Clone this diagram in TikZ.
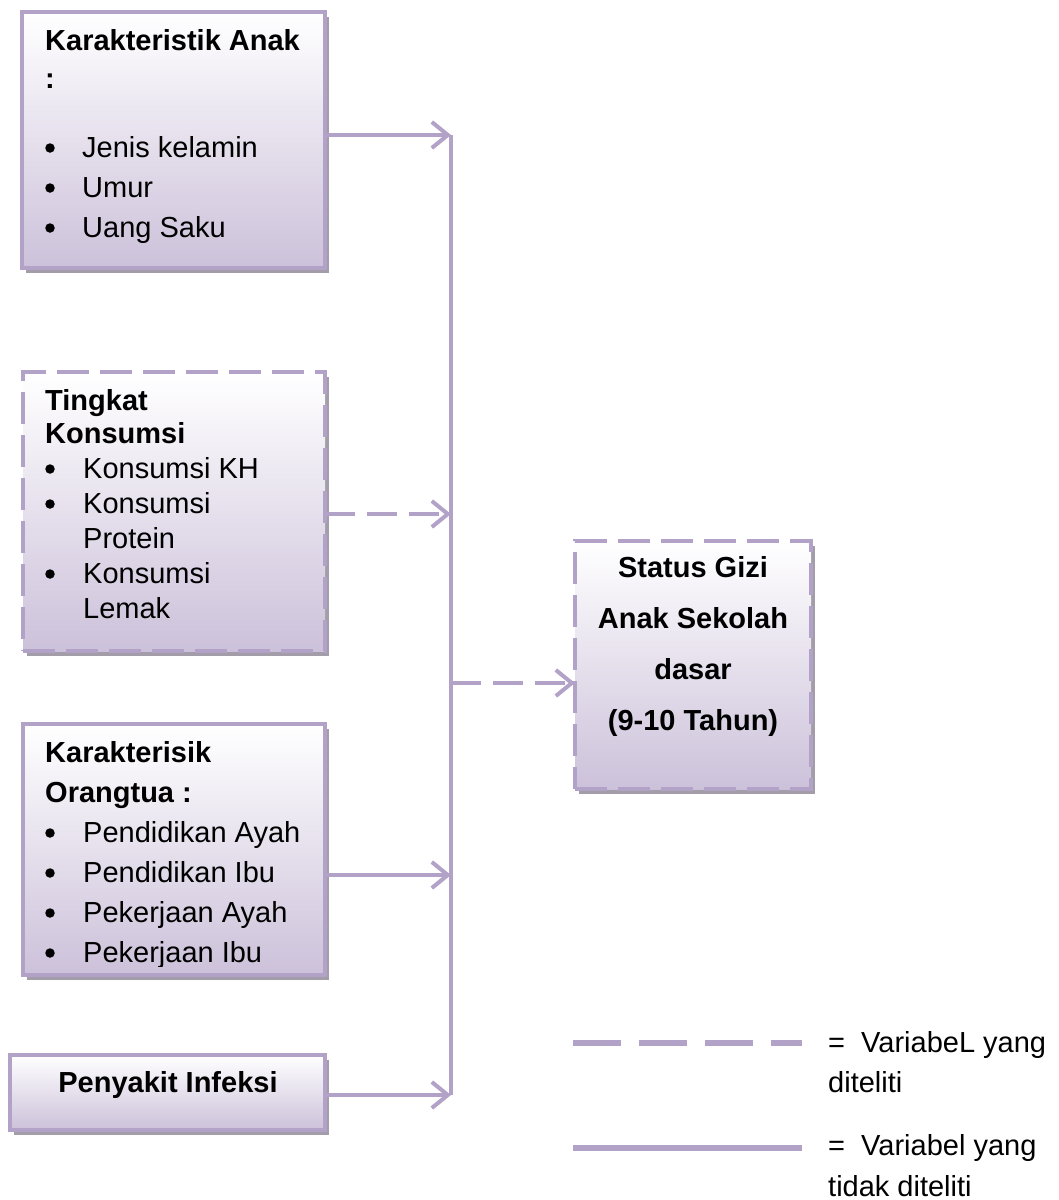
\documentclass[tikz,border=0pt]{standalone}
\usepackage{fontspec}
\setmainfont{Liberation Sans}
\usetikzlibrary{arrows.meta,shadows}
\definecolor{lav}{HTML}{B3A2C7}
\definecolor{lavfill}{HTML}{CCC1DA}
\definecolor{shd}{HTML}{A29DA8}
\begin{document}
\begin{tikzpicture}[x=1pt,y=-1pt,
  box/.style={draw=lav, line width=4.5pt, top color=white, bottom color=lavfill,
    inner sep=0pt, outer sep=0pt, anchor=north west,
    drop shadow={shadow xshift=3.5pt, shadow yshift=-4.5pt, fill=shd, draw=none, opacity=1}},
  dbox/.style={box, dash pattern=on 32pt off 11pt},
  txt/.style={anchor=base west, inner sep=0pt, font=\fontsize{29}{40}\selectfont},
  btxt/.style={txt, font=\fontsize{29}{40}\selectfont\bfseries},
  ctxt/.style={btxt, anchor=base},
  dot/.style={circle, fill=black, inner sep=0pt, minimum size=9.5pt},
  conn/.style={draw=lav, line width=4pt, -{Straight Barb[length=16pt,width=26pt]}},
  dconn/.style={conn, dash pattern=on 30pt off 12pt},
  trunk/.style={draw=lav, line width=4pt},
  legd/.style={draw=lav, line width=6pt, dash pattern=on 48pt off 18pt},
  legs/.style={draw=lav, line width=6pt},
]
\useasboundingbox (0,0) rectangle (1059,1200);

% boxes
\node[box, minimum width=303pt, minimum height=256pt] (b1) at (22,12) {};
\node[dbox, minimum width=302pt, minimum height=279pt] (b2) at (23,372) {};
\node[box, minimum width=302pt, minimum height=251pt] (b3) at (23,724) {};
\node[box, minimum width=315pt, minimum height=75pt] (b4) at (10,1055) {};
\node[dbox, minimum width=236pt, minimum height=248pt] (st) at (575,541) {};

% box 1 text
\node[btxt] (h1a) at (45,50) {Karakteristik Anak};
\node[btxt] (h1b) at (45,88) {:};
\node[dot] (d1a) at (50,148) {};
\node[dot] (d1b) at (50,188) {};
\node[dot] (d1c) at (50,228) {};
\node[txt] (i1a) at (82,157) {Jenis kelamin};
\node[txt] (i1b) at (82,197) {Umur};
\node[txt] (i1c) at (82,237) {Uang Saku};

% box 2 text
\node[btxt] (h2a) at (45,410) {Tingkat};
\node[btxt] (h2b) at (45,443) {Konsumsi};
\node[dot] (d2a) at (50,469) {};
\node[dot] (d2b) at (50,504) {};
\node[dot] (d2c) at (50,574) {};
\node[txt] (i2a) at (83,478) {Konsumsi KH};
\node[txt] (i2b) at (83,513) {Konsumsi};
\node[txt] (i2c) at (83,548) {Protein};
\node[txt] (i2d) at (83,583) {Konsumsi};
\node[txt] (i2e) at (83,618) {Lemak};

% box 3 text
\node[btxt] (h3a) at (45,762) {Karakterisik};
\node[btxt] (h3b) at (45,802) {Orangtua :};
\node[dot] (d3a) at (50,833) {};
\node[dot] (d3b) at (50,873) {};
\node[dot] (d3c) at (50,913) {};
\node[dot] (d3d) at (50,953) {};
\node[txt] (i3a) at (83,842) {Pendidikan Ayah};
\node[txt] (i3b) at (83,882) {Pendidikan Ibu};
\node[txt] (i3c) at (83,922) {Pekerjaan Ayah};
\begin{scope}
  \clip (23,724) rectangle (325,966);
  \node[txt] (i3d) at (83,962) {Pekerjaan Ibu};
\end{scope}

% box 4 text
\node[ctxt] (t4) at (168,1092) {Penyakit Infeksi};

% status text
\node[ctxt] (s1) at (693,577) {Status Gizi};
\node[ctxt] (s2) at (693,628) {Anak Sekolah};
\node[ctxt] (s3) at (693,679) {dasar};
\node[ctxt] (s4) at (693,730) {(9-10 Tahun)};

% connectors
\coordinate (j1) at (451,135);
\coordinate (j2) at (451,514);
\coordinate (j3) at (451,875);
\coordinate (j4) at (451,1095);
\coordinate (js) at (451,683);
\draw[trunk] (j1) -- (j4);
\draw[conn] (b1.east |- j1) -- (j1);
\draw[dconn] (b2.east |- j2) -- (j2);
\draw[conn] (b3.east |- j3) -- (j3);
\draw[conn] (b4.east |- j4) -- (j4);
\draw[dconn] (js) -- (st.west |- js);

% legend
\coordinate (la1) at (573,1043);
\coordinate (la2) at (802,1043);
\coordinate (lb1) at (573,1148);
\coordinate (lb2) at (802,1148);
\draw[legd] (la1) -- (la2);
\draw[legs] (lb1) -- (lb2);
\node[txt] (l1) at (828,1052) {=\ \ VariabeL yang};
\node[txt] (l2) at (828,1092) {diteliti};
\node[txt] (l3) at (828,1155) {=\ \ Variabel yang};
\node[txt] (l4) at (828,1196) {tidak diteliti};
\end{tikzpicture}
\end{document}
